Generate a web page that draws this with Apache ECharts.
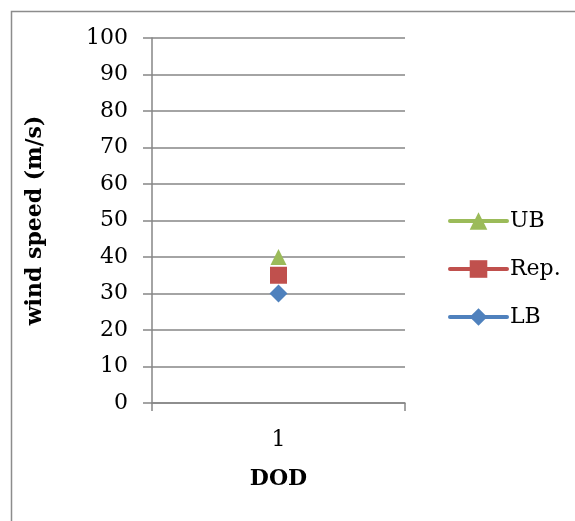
<!DOCTYPE html>
<html>
<head>
<meta charset="utf-8">
<script src="https://cdn.jsdelivr.net/npm/echarts@6/dist/echarts.min.js"></script>
<style>html,body{margin:0;padding:0;background:#fff;}#c{width:575px;height:521px;}</style>
</head>
<body>
<div id="c"></div>
<script>
const categories = ['1'];
const seriesNames = ['UB', 'Rep.', 'LB'];
const ubValues = [40];
const repValues = [35];
const lbValues = [30];
const yTicks = { min: 0, max: 100, interval: 10 };

const font = 'DejaVu Serif';
const chart = echarts.init(document.getElementById('c'), null, { renderer: 'canvas' });
chart.setOption({
  animation: false,
  backgroundColor: '#fff',
  graphic: [{
    type: 'rect', left: 9, top: 9, z: -1,
    shape: { width: 700, height: 700 },
    style: { fill: 'none', stroke: '#8c8c8c', lineWidth: 1.5 }
  }],
  grid: { left: 152, right: 170, top: 38, bottom: 118 },
  legend: {
    orient: 'vertical', left: 443, top: 205,
    itemWidth: 57, itemHeight: 22, itemGap: 26,
    lineStyle: { width: 4, cap: 'round' },
    textStyle: { fontFamily: font, fontSize: 22, color: '#000', padding: [0, 0, 0, -2] },
    data: seriesNames
  },
  xAxis: {
    type: 'category', data: categories, boundaryGap: true,
    name: 'DOD', nameLocation: 'middle', nameGap: 65,
    nameTextStyle: { fontFamily: font, fontSize: 22, fontWeight: 'bold', color: '#000' },
    axisLine: { lineStyle: { color: '#868686', width: 1.5 } },
    axisTick: { show: true, length: 8, lineStyle: { color: '#868686', width: 1.5 } },
    axisLabel: { fontFamily: font, fontSize: 22, color: '#000', margin: 26 },
    splitLine: { show: false }
  },
  yAxis: {
    type: 'value', min: yTicks.min, max: yTicks.max, interval: yTicks.interval,
    name: 'wind speed (m/s)', nameLocation: 'middle', nameGap: 106, nameRotate: 90,
    nameTextStyle: { fontFamily: font, fontSize: 22, fontWeight: 'bold', color: '#000' },
    axisLine: { show: true, lineStyle: { color: '#868686', width: 1.5 } },
    axisTick: { show: true, length: 9, lineStyle: { color: '#868686', width: 1.5 } },
    axisLabel: { fontFamily: font, fontSize: 22, color: '#000', margin: 24 },
    splitLine: { show: true, lineStyle: { color: '#868686', width: 1.5 } }
  },
  series: [
    { name: seriesNames[0], type: 'line', data: ubValues, symbol: 'triangle', symbolSize: 16,
      itemStyle: { color: '#9BBB59' }, lineStyle: { color: '#9BBB59', width: 4 } },
    { name: seriesNames[1], type: 'line', data: repValues, symbol: 'rect', symbolSize: 17,
      itemStyle: { color: '#C0504D' }, lineStyle: { color: '#C0504D', width: 4 } },
    { name: seriesNames[2], type: 'line', data: lbValues, symbol: 'diamond', symbolSize: 18,
      itemStyle: { color: '#4F81BD' }, lineStyle: { color: '#4F81BD', width: 4 } }
  ]
});
</script>
</body>
</html>
